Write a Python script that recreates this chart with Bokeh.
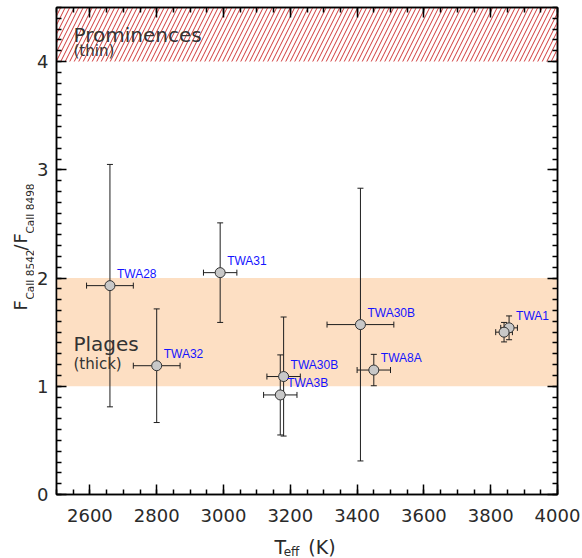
import math
from bokeh.plotting import figure
from bokeh.layouts import row, column
from bokeh.models import (Range1d, SingleIntervalTicker, LinearAxis, ColumnDataSource,
                          Whisker, TeeHead, BoxAnnotation, Label)
from bokeh.core.properties import value
from bokeh.embed import file_html
from bokeh.resources import INLINE

# ---------------- data ----------------
names = ["TWA28", "TWA32", "TWA31", "TWA30B", "TWA3B", "TWA30B", "TWA8A", "TWA1", ""]
teff = [2660, 2800, 2990, 3180, 3170, 3410, 3450, 3855, 3840]
teff_err = [70, 70, 50, 50, 50, 100, 50, 25, 25]
ratio = [1.93, 1.19, 2.05, 1.09, 0.92, 1.57, 1.15, 1.54, 1.50]
ratio_err = [1.12, 0.525, 0.46, 0.55, 0.37, 1.26, 0.145, 0.11, 0.09]

x_limits = [2500, 4000]
y_limits = [0, 4.5]
x_tick_step = 200
y_tick_step = 1
plage_band = [1.0, 2.0]
prominence_band = [4.0, 4.5]

# ---------------- layout constants (pixels) ----------------
W, H = 582, 558
YT_W = 34            # width of the y-title strip
XT_H = 26            # height of the x-title strip
FL, FR, FT, FB = 55, 556, 7, 494   # frame edges in page pixels
MAIN_W, MAIN_H = W - YT_W, H - XT_H

FONT = "DejaVu Sans"
TXT = "#2a2a2a"

src = ColumnDataSource(dict(
    teff=teff, ratio=ratio, names=names,
    t_lo=[t - e for t, e in zip(teff, teff_err)],
    t_hi=[t + e for t, e in zip(teff, teff_err)],
    r_lo=[r - e for r, e in zip(ratio, ratio_err)],
    r_hi=[r + e for r, e in zip(ratio, ratio_err)],
))

p = figure(frame_width=FR - FL, frame_height=FB - FT,
           min_border_left=FL - YT_W, min_border_right=W - FR,
           min_border_top=FT, min_border_bottom=MAIN_H - FB,
           x_range=Range1d(*x_limits), y_range=Range1d(*y_limits),
           output_backend="svg", toolbar_location=None)
p.grid.visible = False
p.outline_line_color = "black"
p.outline_line_width = 1.5
p.background_fill_color = "white"
p.border_fill_color = "white"

xt = SingleIntervalTicker(interval=x_tick_step, num_minor_ticks=4)
yt = SingleIntervalTicker(interval=y_tick_step, num_minor_ticks=10)


def style(ax, labels):
    ax.major_tick_in = 10
    ax.major_tick_out = 0
    ax.minor_tick_in = 5
    ax.minor_tick_out = 0
    ax.axis_line_width = 1.5
    ax.major_tick_line_width = 1.5
    ax.minor_tick_line_width = 1.5
    ax.axis_line_color = "black"
    ax.major_tick_line_color = "black"
    ax.minor_tick_line_color = "black"
    ax.axis_label = None
    if labels:
        ax.major_label_text_font = FONT
        ax.major_label_text_font_size = "18px"
        ax.major_label_text_color = TXT
    else:
        ax.major_label_text_color = None
        ax.major_label_text_font_size = "1px"
        ax.major_label_standoff = 0


p.xaxis[0].ticker = xt
p.yaxis[0].ticker = yt
style(p.xaxis[0], True)
style(p.yaxis[0], True)
p.xaxis[0].major_label_standoff = 14
p.yaxis[0].major_label_standoff = 8

top_ax = LinearAxis(ticker=xt)
right_ax = LinearAxis(ticker=yt)
style(top_ax, False)
style(right_ax, False)
p.add_layout(top_ax, "above")
p.add_layout(right_ax, "right")

# ---------------- bands ----------------
plage = BoxAnnotation(bottom=plage_band[0], top=plage_band[1],
                      fill_color="#FDDFC3", fill_alpha=1.0, line_color=None,
                      level="underlay")
prom = BoxAnnotation(bottom=prominence_band[0], top=prominence_band[1],
                     fill_color=None, fill_alpha=0, line_color=None,
                     hatch_pattern="/", hatch_color="#D03838", hatch_scale=9,
                     hatch_weight=1, level="underlay")
p.add_layout(plage)
p.add_layout(prom)

# ---------------- error bars ----------------
ecol = "#1e1e1e"
wy = Whisker(base="teff", lower="r_lo", upper="r_hi", dimension="height", source=src,
             line_color=ecol, line_width=1, level="underlay",
             upper_head=TeeHead(size=6, line_color=ecol, line_width=1),
             lower_head=TeeHead(size=6, line_color=ecol, line_width=1))
wx = Whisker(base="ratio", lower="t_lo", upper="t_hi", dimension="width", source=src,
             line_color=ecol, line_width=1, level="underlay",
             upper_head=TeeHead(size=6, line_color=ecol, line_width=1),
             lower_head=TeeHead(size=6, line_color=ecol, line_width=1))
p.add_layout(wy)
p.add_layout(wx)

# ---------------- points & names ----------------
p.scatter("teff", "ratio", source=src, size=10, fill_color="#C8C8C8",
          line_color="#333333", line_width=1)
p.text(x="teff", y="ratio", text="names", source=src, x_offset=7, y_offset=-12,
       text_baseline="middle", text_align="left",
       text_font=value("Liberation Sans"), text_font_size="12px", text_color="#1414FF")


# ---------------- band labels (inside the frame) ----------------
def dx(px):
    return x_limits[0] + (px - FL) * (x_limits[1] - x_limits[0]) / (FR - FL)


def dy(py):
    return y_limits[0] + (FB - py) * (y_limits[1] - y_limits[0]) / (FB - FT)


def lab(px, py, text, size):
    p.add_layout(Label(x=dx(px), y=dy(py), text=text, text_font=FONT,
                       text_font_size=size, text_color="#333333",
                       text_align="left", text_baseline="alphabetic"))


lab(72, 34, "Prominences", "20px")
lab(72, 50, "(thin)", "15px")
lab(72, 343, "Plages", "20px")
lab(72, 363, "(thick)", "15px")


# ---------------- title strips ----------------
def strip(w, h):
    f = figure(width=w, height=h, x_range=Range1d(0, w), y_range=Range1d(0, h),
               x_axis_location=None, y_axis_location=None, min_border=0,
               output_backend="svg", toolbar_location=None)
    f.grid.visible = False
    f.outline_line_color = None
    f.background_fill_color = "white"
    f.border_fill_color = "white"
    return f


# x title strip: page x = local x + YT_W, page y = H - local y
fx = strip(MAIN_W, XT_H)


def xt_text(px, py, text, size):
    fx.text(x=[px - YT_W], y=[H - py], text=[text], text_font=value(FONT),
            text_font_size=size, text_color=TXT, text_align="left",
            text_baseline="alphabetic")


xt_text(273, 546, "T", "19px")
xt_text(283, 551, "eff", "12px")
xt_text(310, 546, "(K)", "19px")

# y title strip: page x = local x, page y = H - local y (text reads upward)
fy = strip(YT_W, H)
R = math.pi / 2


def yt_text(px, py, text, size):
    fy.text(x=[px], y=[H - py], text=[text], text_font=value(FONT), angle=R,
            text_font_size=size, text_color=TXT, text_align="left",
            text_baseline="alphabetic")


yt_text(20, 310, "F", "18px")
yt_text(29, 299, "CaII 8542", "10.5px")
yt_text(20, 250, "/", "18px")
yt_text(20, 243, "F", "18px")
yt_text(29, 233, "CaII 8498", "10.5px")

layout = row(fy, column(p, fx))
open("out.html", "w").write(file_html(layout, INLINE))
